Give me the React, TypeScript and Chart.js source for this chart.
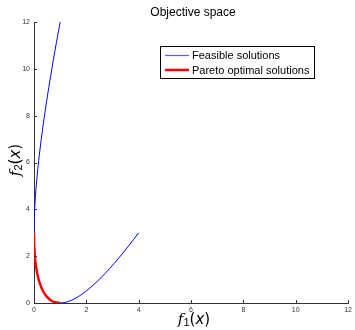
import React, { useEffect, useRef } from "react";
import { Chart, registerables } from "chart.js";

Chart.register(...registerables);

const chartTitle = "Objective space";
const feasibleLabel = "Feasible solutions";
const paretoLabel = "Pareto optimal solutions";
const xTicks = [0, 2, 4, 6, 8, 10, 12];
const yTicks = [0, 2, 4, 6, 8, 10, 12];

// Feasible set curve (f1, f2)
const feasibleF1 = [1, 0.81, 0.64, 0.49, 0.36, 0.25, 0.16, 0.09, 0.04, 0.01, 0, 0.01, 0.04, 0.09, 0.16, 0.25, 0.36, 0.49, 0.64, 0.81, 1, 1.21, 1.44, 1.69, 1.96, 2.25, 2.56, 2.89, 3.24, 3.61, 4];
const feasibleF2 = [12, 10.83, 9.72, 8.67, 7.68, 6.75, 5.88, 5.07, 4.32, 3.63, 3, 2.43, 1.92, 1.47, 1.08, 0.75, 0.48, 0.27, 0.12, 0.03, 0, 0.03, 0.12, 0.27, 0.48, 0.75, 1.08, 1.47, 1.92, 2.43, 3];
// Pareto front
const paretoF1 = [0, 0.01, 0.04, 0.09, 0.16, 0.25, 0.36, 0.49, 0.64, 0.81, 1];
const paretoF2 = [3, 2.43, 1.92, 1.47, 1.08, 0.75, 0.48, 0.27, 0.12, 0.03, 0];

const FONT = "'Liberation Sans', Arial, sans-serif";

function drawMathLabel(ctx: CanvasRenderingContext2D, sub: string, x: number, y: number, size: number) {
  const parts: { t: string; font: string; dy: number }[] = [
    { t: "f", font: `italic ${size}px 'DejaVu Serif', serif`, dy: 0 },
    { t: sub, font: `${Math.round(size * 0.72)}px ${FONT}`, dy: size * 0.22 },
    { t: "(", font: `${size}px 'DejaVu Sans', sans-serif`, dy: 0 },
    { t: "x", font: `italic ${size}px 'DejaVu Sans', sans-serif`, dy: 0 },
    { t: ")", font: `${size}px 'DejaVu Sans', sans-serif`, dy: 0 },
  ];
  let total = 0;
  const widths = parts.map((p) => {
    ctx.font = p.font;
    const w = ctx.measureText(p.t).width;
    total += w;
    return w;
  });
  let cx = x - total / 2;
  ctx.textBaseline = "middle";
  ctx.textAlign = "left";
  parts.forEach((p, i) => {
    ctx.font = p.font;
    ctx.fillText(p.t, cx, y + p.dy);
    cx += widths[i];
  });
}

const decorPlugin = {
  id: "decor",
  afterDraw(chart: any) {
    const ctx: CanvasRenderingContext2D = chart.ctx;
    const xs = chart.scales.x;
    const ys = chart.scales.y;
    const area = chart.chartArea;
    ctx.save();
    ctx.strokeStyle = "#333";
    ctx.lineWidth = 1;
    xTicks.forEach((v) => {
      const px = Math.round(xs.getPixelForValue(v)) + 0.5;
      ctx.beginPath();
      ctx.moveTo(px, area.bottom);
      ctx.lineTo(px, area.bottom - 3);
      ctx.stroke();
    });
    yTicks.forEach((v) => {
      const py = Math.round(ys.getPixelForValue(v)) + 0.5;
      ctx.beginPath();
      ctx.moveTo(area.left, py);
      ctx.lineTo(area.left + 3, py);
      ctx.stroke();
    });
    ctx.fillStyle = "#000";
    ctx.font = `12px ${FONT}`;
    ctx.textAlign = "center";
    ctx.textBaseline = "middle";
    ctx.fillText(chartTitle, 193, 13);
    drawMathLabel(ctx, "1", 194, 320, 15);
    ctx.save();
    ctx.translate(16, 160);
    ctx.rotate(-Math.PI / 2);
    drawMathLabel(ctx, "2", 0, 0, 15);
    ctx.restore();
    // legend
    const lx = 160.5, ly = 46.5, lw = 154, lh = 32;
    ctx.fillStyle = "#fff";
    ctx.fillRect(lx, ly, lw, lh);
    ctx.strokeStyle = "#000";
    ctx.lineWidth = 1;
    ctx.strokeRect(lx, ly, lw, lh);
    ctx.font = `11px ${FONT}`;
    ctx.textAlign = "left";
    ctx.textBaseline = "middle";
    const rows = [
      { label: feasibleLabel, color: "#5a5aff", w: 1.2 },
      { label: paretoLabel, color: "#ff0000", w: 2.5 },
    ];
    rows.forEach((r, i) => {
      const yy = ly + 9 + i * 14.5;
      ctx.strokeStyle = r.color;
      ctx.lineWidth = r.w;
      ctx.beginPath();
      ctx.moveTo(lx + 4.5, yy);
      ctx.lineTo(lx + 28.5, yy);
      ctx.stroke();
      ctx.fillStyle = "#000";
      ctx.fillText(r.label, lx + 31.5, yy + 0.5);
    });
    ctx.restore();
  },
};

export default function App() {
  const ref = useRef<HTMLCanvasElement>(null);
  useEffect(() => {
    document.body.style.margin = "0";
    const feasible = feasibleF1.map((v, i) => ({ x: v, y: feasibleF2[i] }));
    const pareto = paretoF1.map((v, i) => ({ x: v, y: paretoF2[i] }));
    const chart = new Chart(ref.current as HTMLCanvasElement, {
      type: "scatter",
      data: {
        datasets: [
          {
            label: feasibleLabel,
            data: feasible,
            showLine: true,
            borderColor: "#0000ff",
            borderWidth: 1,
            pointRadius: 0,
            tension: 0.3,
            order: 2,
          },
          {
            label: paretoLabel,
            data: pareto,
            showLine: true,
            borderColor: "#ff0000",
            borderWidth: 2.5,
            pointRadius: 0,
            tension: 0.3,
            order: 1,
          },
        ],
      },
      options: {
        animation: false,
        responsive: false,
        maintainAspectRatio: false,
        layout: { padding: { top: 22, right: 5, left: 0, bottom: 0 } },
        plugins: { legend: { display: false }, title: { display: false }, tooltip: { enabled: false } },
        scales: {
          x: {
            type: "linear",
            min: 0,
            max: 12,
            afterBuildTicks: (s: any) => { s.ticks = xTicks.map((v) => ({ value: v })); },
            ticks: { font: { size: 7, family: FONT }, color: "#333", padding: 3, maxRotation: 0, autoSkip: false },
            grid: { drawOnChartArea: false, drawTicks: false },
            border: { display: true, color: "#333", width: 1 },
            afterFit: (s: any) => { s.height = 27; },
          },
          y: {
            type: "linear",
            min: 0,
            max: 12,
            afterBuildTicks: (s: any) => { s.ticks = yTicks.map((v) => ({ value: v })); },
            ticks: { font: { size: 7, family: FONT }, color: "#333", padding: 4, autoSkip: false },
            grid: { drawOnChartArea: false, drawTicks: false },
            border: { display: true, color: "#333", width: 1 },
            afterFit: (s: any) => { s.width = 34; },
          },
        },
      },
      plugins: [decorPlugin],
    } as any);
    return () => chart.destroy();
  }, []);
  return (
    <div style={{ position: "absolute", left: 0, top: 0, width: 355, height: 330 }}>
      <canvas ref={ref} width={355} height={330} style={{ width: 355, height: 330 }} />
    </div>
  );
}
